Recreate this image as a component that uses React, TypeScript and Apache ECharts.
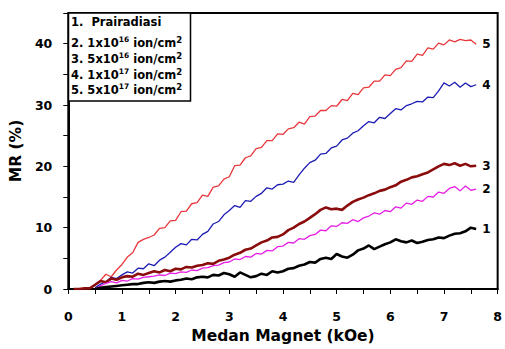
import React, { useEffect, useRef } from "react";
import * as echarts from "echarts";

const xs: number[] = [
  0.1, 0.2, 0.3, 0.4, 0.5, 0.6, 0.7, 0.8, 0.9, 1.0,
  1.1, 1.2, 1.3, 1.4, 1.5, 1.6, 1.7, 1.8, 1.9, 2.0,
  2.1, 2.2, 2.3, 2.4, 2.5, 2.6, 2.7, 2.8, 2.9, 3.0,
  3.1, 3.2, 3.3, 3.4, 3.5, 3.6, 3.7, 3.8, 3.9, 4.0,
  4.1, 4.2, 4.3, 4.4, 4.5, 4.6, 4.7, 4.8, 4.9, 5.0,
  5.1, 5.2, 5.3, 5.4, 5.5, 5.6, 5.7, 5.8, 5.9, 6.0,
  6.1, 6.2, 6.3, 6.4, 6.5, 6.6, 6.7, 6.8, 6.9, 7.0,
  7.1, 7.2, 7.3, 7.4, 7.5, 7.6,
];

// 1. Prairadiasi (black)
const s1: (number | null)[] = [
  null, null, null, null, 0.0, 0.2, 0.3, 0.4, 0.5, 0.6,
  0.7, 0.8, 0.8, 1.0, 1.1, 1.0, 1.2, 1.3, 1.2, 1.4,
  1.5, 1.7, 1.6, 1.9, 2.0, 1.9, 2.3, 2.2, 2.6, 2.4,
  2.0, 2.7, 2.3, 1.9, 2.1, 2.5, 2.3, 2.9, 2.7, 2.9,
  3.3, 3.4, 3.8, 4.0, 4.4, 4.3, 4.9, 5.1, 4.9, 5.7,
  5.3, 5.1, 5.6, 6.3, 6.6, 7.1, 6.5, 6.9, 7.3, 7.6,
  8.1, 7.8, 7.6, 7.9, 7.5, 7.7, 8.0, 8.1, 8.4, 8.3,
  8.7, 9.0, 9.1, 9.4, 10.0, 9.8,
];

// 2. 1x10^16 (magenta)
const s2: (number | null)[] = [
  null, null, null, null, 0.0, 0.5, 0.9, 1.2, 1.0, 1.4,
  1.3, 1.7, 1.6, 1.9, 2.0, 2.1, 2.3, 2.2, 2.6, 2.5,
  2.8, 2.7, 3.1, 3.0, 3.4, 3.5, 3.8, 3.9, 4.3, 4.4,
  4.9, 4.8, 5.3, 5.2, 5.8, 5.7, 6.3, 6.2, 6.9, 7.0,
  7.6, 7.5, 8.2, 8.1, 8.7, 8.9, 9.6, 9.5, 10.3, 10.2,
  10.8, 10.7, 11.3, 11.0, 11.6, 11.9, 12.4, 12.2, 12.8, 12.6,
  13.4, 13.2, 14.0, 13.8, 14.5, 14.3, 15.1, 15.0, 15.8, 15.6,
  16.4, 16.7, 16.0, 16.8, 16.1, 16.3,
];

// 3. 5x10^16 (dark red)
const s3: (number | null)[] = [
  0.0, 0.0, 0.1, 0.1, 0.7, 1.3, 1.1, 1.7, 1.5, 1.9,
  2.1, 2.0, 2.5, 2.3, 2.6, 2.9, 2.7, 3.1, 2.9, 3.3,
  3.2, 3.6, 3.5, 3.8, 3.9, 4.2, 4.1, 4.6, 4.8, 5.1,
  5.6, 5.9, 6.4, 6.6, 7.1, 7.6, 7.9, 8.4, 8.5, 8.9,
  9.6, 10.0, 10.6, 11.0, 11.6, 12.2, 12.9, 13.3, 13.0, 13.1,
  12.9, 13.6, 14.2, 14.6, 14.9, 15.3, 15.6, 16.0, 16.2, 16.6,
  16.9, 17.5, 17.8, 18.2, 18.4, 18.7, 19.0, 19.5, 20.0, 20.4,
  20.2, 20.5, 20.1, 20.4, 20.0, 20.1,
];

// 4. 1x10^17 (blue)
const s4: (number | null)[] = [
  null, null, null, null, 0.2, 0.8, 1.2, 1.9, 1.7, 2.3,
  2.8, 2.6, 3.4, 3.3, 4.1, 3.8, 4.7, 5.2, 6.0, 6.8,
  7.4, 7.2, 8.1, 8.0, 8.9, 9.4, 10.6, 11.0, 12.1, 12.8,
  13.6, 13.3, 14.4, 14.3, 15.1, 15.6, 16.5, 16.3, 17.0, 17.1,
  17.6, 17.4, 18.6, 19.7, 20.6, 21.0, 22.0, 22.1, 23.0, 23.3,
  24.3, 24.6, 25.4, 25.8, 26.6, 27.3, 27.1, 28.0, 27.8, 28.6,
  29.4, 29.2, 29.9, 30.2, 30.6, 30.5, 31.3, 31.2, 32.3, 33.6,
  33.1, 33.7, 32.9, 33.6, 33.0, 33.3,
];

// 5. 5x10^17 (red)
const s5: (number | null)[] = [
  null, null, null, 0.1, 0.7, 1.4, 2.4, 2.0, 3.1, 4.0,
  5.2, 5.9, 7.6, 8.1, 8.4, 8.8, 9.9, 10.0, 11.1, 11.2,
  12.6, 12.7, 13.9, 14.1, 15.3, 15.1, 16.6, 16.8, 17.9, 18.3,
  20.1, 20.2, 21.4, 21.7, 22.9, 23.1, 24.2, 24.2, 25.3, 25.2,
  26.1, 26.3, 27.2, 26.9, 28.1, 28.2, 29.1, 29.1, 29.9, 29.8,
  30.9, 30.7, 31.9, 31.7, 32.8, 32.9, 33.9, 33.9, 34.9, 34.8,
  35.8, 36.1, 37.2, 37.1, 38.3, 38.1, 39.3, 39.1, 40.1, 39.8,
  40.6, 40.3, 40.7, 40.5, 40.6, 39.9,
];

const seriesNames = ["1", "2", "3", "4", "5"];
const seriesColors = ["#000000", "#e61ee6", "#8a0c0c", "#1c1cb4", "#e8383c"];
const seriesWidths = [2.6, 1.3, 2.6, 1.3, 1.3];
const seriesValues = [s1, s2, s3, s4, s5];

const legendLines = [
  "{a|1.  Prairadiasi}",
  "{a|2. 1x10}{s|16}{a| ion/cm}{t|2}",
  "{a|3. 5x10}{s|16}{a| ion/cm}{t|2}",
  "{a|4. 1x10}{s|17}{a| ion/cm}{t|2}",
  "{a|5. 5x10}{s|17}{a| ion/cm}{t|2}",
];
const legendY = [22, 43, 58.5, 74.5, 90];

const FONT = "DejaVu Sans";

export default function App() {
  const ref = useRef<HTMLDivElement>(null);
  useEffect(() => {
    document.body.style.margin = "0";
    if (!ref.current) return;
    const chart = echarts.init(ref.current, undefined, { renderer: "svg" });
    const series = seriesValues.map((vals, i) => ({
      type: "line",
      name: seriesNames[i],
      data: xs.map((x, j) => [x, vals[j] === null ? "-" : vals[j]]),
      showSymbol: false,
      symbol: "none",
      lineStyle: { color: seriesColors[i], width: seriesWidths[i] },
      itemStyle: { color: seriesColors[i] },
      connectNulls: false,
      z: 10 - i,
      endLabel: {
        show: true,
        formatter: seriesNames[i],
        distance: 6,
        color: "#000",
        fontFamily: FONT,
        fontWeight: "bold",
        fontSize: 12,
      },
    }));
    const rich = {
      a: { fontFamily: FONT, fontWeight: "bold", fontSize: 11.5, color: "#000" },
      s: { fontFamily: FONT, fontWeight: "bold", fontSize: 7.5, color: "#000", padding: [0, 0, 7, 0] },
      t: { fontFamily: FONT, fontWeight: "bold", fontSize: 8.5, color: "#000", padding: [0, 0, 6, 0] },
    };
    chart.setOption({
      animation: false,
      backgroundColor: "#fff",
      grid: {
        left: 68,
        right: 7,
        top: 13,
        bottom: 55,
        show: true,
        borderColor: "#000",
        borderWidth: 2,
        backgroundColor: "transparent",
      },
      xAxis: {
        type: "value",
        min: 0,
        max: 8,
        interval: 0.5,
        name: "Medan Magnet (kOe)",
        nameLocation: "middle",
        nameGap: 39,
        nameTextStyle: { fontFamily: FONT, fontWeight: "bold", fontSize: 15.5, color: "#000" },
        axisLine: { show: true, onZero: false, lineStyle: { color: "#000", width: 2 } },
        axisTick: { show: true, inside: false, length: 5, lineStyle: { color: "#000", width: 1 } },
        axisLabel: {
          margin: 21,
          fontFamily: FONT,
          fontWeight: "bold",
          fontSize: 12.5,
          color: "#000",
          formatter: (v: number) => (Math.abs(v - Math.round(v)) < 1e-6 ? String(Math.round(v)) : ""),
        },
        splitLine: { show: false },
      },
      yAxis: {
        type: "value",
        min: 0,
        max: 45,
        interval: 5,
        name: "MR (%)",
        nameLocation: "middle",
        nameGap: 40,
        nameTextStyle: { fontFamily: FONT, fontWeight: "bold", fontSize: 15.5, color: "#000" },
        axisLine: { show: true, onZero: false, lineStyle: { color: "#000", width: 2 } },
        axisTick: { show: true, inside: false, length: 5, lineStyle: { color: "#000", width: 1 } },
        axisLabel: {
          margin: 16,
          fontFamily: FONT,
          fontWeight: "bold",
          fontSize: 12.5,
          color: "#000",
          formatter: (v: number) => (v % 10 === 0 ? String(v) : ""),
        },
        splitLine: { show: false },
      },
      series,
      graphic: [
        {
          type: "rect",
          shape: { x: 68.5, y: 13, width: 122, height: 88 },
          style: { fill: "#fff", stroke: "#000", lineWidth: 1.5 },
          z: 100,
        },
        ...legendLines.map((txt, i) => ({
          type: "text",
          x: 71,
          y: legendY[i],
          z: 101,
          style: {
            text: txt,
            rich,
            verticalAlign: "middle",
            align: "left",
            fill: "#000",
          },
        })),
      ],
    });
    return () => chart.dispose();
  }, []);
  return <div ref={ref} style={{ width: 505, height: 349 }} />;
}
